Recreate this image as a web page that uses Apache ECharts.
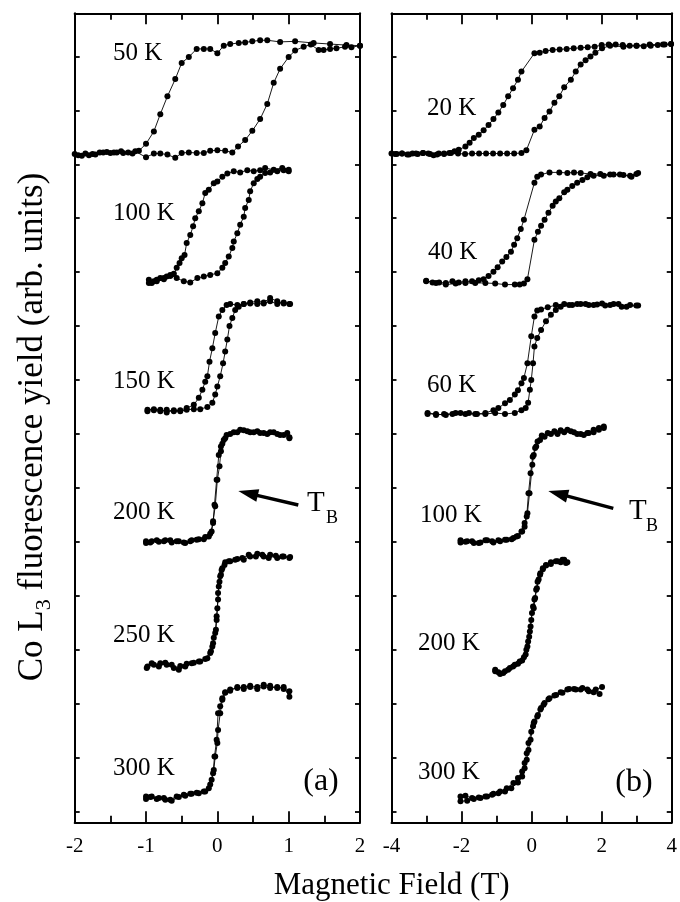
<!DOCTYPE html>
<html><head><meta charset="utf-8">
<script src="https://cdn.jsdelivr.net/npm/echarts@6.0.0/dist/echarts.min.js"></script>
<style>html,body{margin:0;padding:0;background:#fff}#c{width:680px;height:902px}</style>
</head><body><div id="c"></div>
<script>
// ---------- tick values ----------
const xTicksA = [-2, -1, 0, 1, 2];
const xTicksB = [-4, -2, 0, 2, 4];
const yTickValues = [0,1,2,3,4,5,6,7,8,9,10,11,12,13,14];
const yRange = [-0.2, 14.8];

// ---------- labels ----------
const tempLabelsA = ['50 K','100 K','150 K','200 K','250 K','300 K'];
const tempLabelsB = ['20 K','40 K','60 K','100 K','200 K','300 K'];
const panelTags = ['(a)','(b)'];
const xTitle = 'Magnetic Field (T)';
const yTitleMain = 'Co L';
const yTitleSub = '3';
const yTitleRest = ' fluorescence yield (arb. units)';

// ---------- panel (a) data: field (T), yield (arb. units), loop order ----------
const a50K_field = [2.0,1.81,1.58,1.35,1.09,0.88,0.70,0.60,0.49,0.39,0.30,0.18,0.09,0.0,-0.10,-0.19,-0.29,-0.40,-0.50,-0.59,-0.70,-0.80,-0.89,-1.0,-1.10,-1.19,-1.32,-1.41,-1.50,-1.60,-1.71,-1.80,-1.90,-2.0,
  -1.95,-1.85,-1.75,-1.65,-1.55,-1.45,-1.35,-1.25,-1.15,-1.0,-0.89,-0.80,-0.70,-0.59,-0.50,-0.40,-0.29,-0.19,-0.10,0.0,0.11,0.21,0.29,0.39,0.49,0.60,0.70,0.79,0.88,1.0,1.09,1.21,1.31,1.42,1.49,1.58,1.67,1.79,1.88,2.0];
const a50K_yield = [14.20,14.21,14.23,14.25,14.28,14.27,14.30,14.30,14.28,14.26,14.25,14.23,14.20,14.06,14.14,14.14,14.14,13.99,13.88,13.58,13.26,12.93,12.61,12.38,12.25,12.20,12.21,12.22,12.21,12.22,12.18,12.17,12.16,12.19,
  12.17,12.20,12.19,12.22,12.23,12.22,12.24,12.22,12.24,12.13,12.20,12.20,12.18,12.12,12.21,12.22,12.21,12.21,12.25,12.26,12.25,12.22,12.33,12.45,12.62,12.84,13.12,13.51,13.77,13.99,14.11,14.18,14.22,14.12,14.12,14.14,14.15,14.18,14.17,14.20];

const a100K_field = [1.0,0.91,0.79,0.67,0.60,0.51,0.42,0.32,0.23,0.14,0.07,0.0,-0.05,-0.12,-0.17,-0.21,-0.26,-0.31,-0.34,-0.38,-0.43,-0.46,-0.50,-0.53,-0.57,-0.61,-0.66,-0.71,-0.75,-0.80,-0.85,-0.89,-0.96,
  -0.96,-0.92,-0.85,-0.75,-0.66,-0.57,-0.47,-0.38,-0.28,-0.19,-0.10,0.0,0.07,0.11,0.16,0.21,0.23,0.28,0.32,0.37,0.39,0.44,0.46,0.51,0.56,0.60,0.67,0.74,0.84,0.93,1.0];
const a100K_yield = [11.87,11.93,11.90,11.93,11.89,11.87,11.89,11.85,11.87,11.83,11.77,11.68,11.65,11.53,11.47,11.28,11.13,11.00,10.85,10.69,10.54,10.32,10.26,10.17,10.08,9.97,9.93,9.92,9.89,9.89,9.86,9.83,9.86,
  9.80,9.80,9.83,9.87,9.95,9.89,9.83,9.81,9.89,9.92,9.95,9.98,10.08,10.17,10.29,10.45,10.57,10.72,10.88,11.03,11.19,11.34,11.50,11.65,11.73,11.77,11.84,11.85,11.87,11.89,11.90];

const a150K_field = [1.02,0.93,0.84,0.74,0.65,0.56,0.46,0.37,0.28,0.18,0.13,0.07,0.02,-0.03,-0.07,-0.11,-0.14,-0.17,-0.21,-0.26,-0.33,-0.43,-0.52,-0.61,-0.71,-0.80,-0.89,-0.98,
  -0.98,-0.89,-0.80,-0.71,-0.61,-0.52,-0.43,-0.33,-0.24,-0.14,-0.07,-0.03,0.0,0.04,0.08,0.11,0.14,0.17,0.21,0.25,0.30,0.37,0.46,0.56,0.65,0.74,0.84,0.93,1.01];
const a150K_yield = [9.41,9.44,9.41,9.46,9.42,9.41,9.42,9.41,9.39,9.41,9.39,9.30,9.18,8.87,8.59,8.34,8.07,7.97,7.82,7.67,7.54,7.48,7.44,7.42,7.45,7.42,7.44,7.45,
  7.42,7.46,7.45,7.40,7.44,7.42,7.45,7.46,7.46,7.50,7.58,7.73,7.88,8.07,8.31,8.53,8.75,9.00,9.15,9.30,9.36,9.41,9.44,9.46,9.44,9.52,9.46,9.42,9.41];

const a200K_field = [1.01,0.93,0.84,0.74,0.65,0.56,0.46,0.37,0.28,0.18,0.11,0.07,0.05,0.03,0.0,-0.03,-0.06,-0.08,-0.12,-0.19,-0.29,-0.38,-0.47,-0.57,-0.66,-0.75,-0.85,-0.94,-1.0,
  -1.0,-0.92,-0.82,-0.73,-0.64,-0.54,-0.45,-0.36,-0.26,-0.17,-0.10,-0.06,-0.04,-0.01,0.02,0.05,0.09,0.13,0.23,0.32,0.42,0.51,0.60,0.70,0.79,0.88,0.98,1.01];
const a200K_yield = [6.94,6.98,7.00,7.03,7.02,7.05,7.03,7.07,7.03,7.00,6.92,6.82,6.68,6.40,6.15,5.66,5.38,5.19,5.10,5.05,5.04,5.01,4.99,5.01,5.03,5.01,5.03,4.99,5.01,
  4.98,5.01,5.00,5.03,4.99,5.01,4.98,5.03,5.05,5.09,5.15,5.35,5.69,6.15,6.61,6.77,6.89,6.98,7.03,7.08,7.05,7.03,7.02,7.00,7.03,6.98,7.02,6.92];

const a250K_field = [1.02,0.93,0.84,0.74,0.65,0.56,0.46,0.37,0.28,0.18,0.11,0.07,0.05,0.03,0.01,0.0,-0.01,-0.02,-0.05,-0.07,-0.10,-0.14,-0.24,-0.33,-0.43,-0.52,-0.61,-0.71,-0.80,-0.89,-0.98,
  -0.99,-0.92,-0.82,-0.73,-0.64,-0.54,-0.45,-0.36,-0.26,-0.17,-0.09,-0.06,-0.03,-0.01,0.01,0.02,0.04,0.06,0.10,0.16,0.25,0.35,0.44,0.54,0.63,0.72,0.82,0.91,1.01];
const a250K_yield = [4.72,4.73,4.70,4.76,4.73,4.78,4.73,4.67,4.68,4.64,4.62,4.51,4.39,4.26,4.05,3.77,3.55,3.37,3.22,3.06,2.94,2.84,2.78,2.76,2.74,2.70,2.66,2.72,2.75,2.72,2.69,
  2.66,2.75,2.69,2.76,2.72,2.63,2.69,2.75,2.78,2.83,2.97,3.12,3.31,3.62,3.93,4.17,4.36,4.48,4.57,4.64,4.67,4.70,4.76,4.73,4.76,4.70,4.74,4.73,4.70];

const a300K_field = [1.01,0.93,0.84,0.74,0.65,0.56,0.46,0.37,0.28,0.18,0.11,0.07,0.04,0.01,0.0,-0.03,-0.05,-0.08,-0.12,-0.19,-0.29,-0.38,-0.47,-0.57,-0.66,-0.75,-0.85,-0.94,-1.0,
  -1.0,-0.92,-0.82,-0.73,-0.64,-0.54,-0.45,-0.36,-0.26,-0.17,-0.10,-0.06,-0.04,-0.01,0.01,0.04,0.07,0.11,0.18,0.28,0.37,0.46,0.56,0.65,0.74,0.84,0.93,1.01];
const a300K_yield = [2.23,2.27,2.31,2.29,2.32,2.27,2.31,2.27,2.31,2.24,2.21,2.07,1.82,1.51,1.27,1.02,0.77,0.59,0.43,0.37,0.35,0.33,0.31,0.28,0.22,0.25,0.23,0.27,0.28,
  0.23,0.28,0.25,0.22,0.20,0.27,0.29,0.33,0.34,0.37,0.50,0.71,1.02,1.33,1.82,1.95,2.10,2.20,2.26,2.29,2.31,2.33,2.31,2.35,2.33,2.29,2.31,2.13];

// ---------- panel (b) data ----------
const b20K_field = [3.98,3.8,3.6,3.4,3.2,3.0,2.8,2.6,2.4,2.2,2.0,1.8,1.6,1.4,1.2,1.0,0.8,0.6,0.4,0.23,0.08,-0.29,-0.39,-0.53,-0.67,-0.81,-0.95,-1.09,-1.23,-1.37,-1.51,-1.65,-1.77,-1.89,-2.08,-2.2,-2.35,-2.5,-2.65,-2.8,-2.95,-3.1,-3.25,-3.4,-3.55,-3.7,-3.85,-4.0,
  -3.9,-3.7,-3.5,-3.3,-3.1,-2.9,-2.7,-2.5,-2.3,-2.1,-1.9,-1.7,-1.5,-1.3,-1.1,-0.9,-0.7,-0.5,-0.29,-0.15,0.08,0.23,0.37,0.51,0.65,0.79,0.93,1.12,1.26,1.40,1.54,1.68,1.82,2.01,2.24,2.62,2.99,3.37,3.75,3.98];
const b20K_yield = [14.23,14.22,14.21,14.20,14.19,14.20,14.20,14.21,14.22,14.22,14.21,14.18,14.17,14.16,14.15,14.14,14.13,14.12,14.10,14.07,14.06,13.72,13.57,13.41,13.26,13.10,12.96,12.84,12.73,12.63,12.55,12.49,12.40,12.33,12.27,12.24,12.21,12.19,12.20,12.17,12.20,12.21,12.19,12.20,12.18,12.20,12.19,12.20,
  12.19,12.20,12.18,12.20,12.21,12.19,12.18,12.20,12.21,12.20,12.19,12.20,12.20,12.20,12.20,12.20,12.20,12.20,12.21,12.26,12.64,12.70,12.86,12.98,13.14,13.26,13.43,13.57,13.72,13.85,13.93,14.00,14.07,14.15,14.20,14.18,14.20,14.22,14.22,14.23];

const b40K_field = [3.04,2.81,2.52,2.24,1.96,1.68,1.40,1.21,1.02,0.79,0.51,0.27,0.16,0.08,-0.22,-0.31,-0.41,-0.50,-0.59,-0.72,-0.84,-0.97,-1.09,-1.23,-1.37,-1.51,-1.70,-1.89,-2.08,-2.26,-2.45,-2.64,-2.83,-3.01,
  -3.01,-2.73,-2.45,-2.17,-1.89,-1.61,-1.32,-1.04,-0.76,-0.48,-0.34,-0.22,-0.12,0.08,0.18,0.27,0.37,0.48,0.60,0.69,0.79,0.93,1.02,1.16,1.30,1.45,1.59,1.77,2.06,2.34,2.62,2.85,2.99];
const b40K_yield = [11.84,11.79,11.81,11.81,11.82,11.82,11.84,11.85,11.84,11.85,11.85,11.81,11.77,11.66,10.97,10.80,10.63,10.51,10.38,10.28,10.20,10.09,10.01,9.93,9.87,9.85,9.83,9.83,9.81,9.83,9.80,9.81,9.81,9.84,
  9.83,9.80,9.77,9.79,9.80,9.80,9.80,9.79,9.77,9.77,9.77,9.79,9.87,10.60,10.75,10.86,10.97,11.10,11.23,11.31,11.37,11.48,11.53,11.60,11.66,11.71,11.76,11.79,11.79,11.81,11.80,11.77,11.82];

const b60K_field = [3.04,2.81,2.57,2.34,2.10,1.87,1.63,1.40,1.16,0.93,0.69,0.46,0.27,0.16,0.08,-0.01,-0.12,-0.22,-0.29,-0.39,-0.48,-0.62,-0.76,-0.95,-1.09,-1.32,-1.56,-1.79,-2.03,-2.26,-2.50,-2.73,-2.97,
  -2.97,-2.73,-2.45,-2.17,-1.89,-1.61,-1.32,-1.04,-0.76,-0.48,-0.29,-0.17,-0.10,-0.05,-0.01,0.04,0.08,0.16,0.27,0.41,0.55,0.69,0.83,1.07,1.30,1.54,1.77,2.01,2.24,2.48,2.71,2.99];
const b60K_yield = [9.38,9.39,9.36,9.41,9.38,9.40,9.39,9.41,9.39,9.41,9.39,9.35,9.31,9.29,9.18,8.81,8.31,8.04,7.94,7.81,7.73,7.63,7.57,7.48,7.44,7.39,7.37,7.39,7.39,7.37,7.37,7.35,7.39,
  7.37,7.37,7.35,7.39,7.37,7.37,7.37,7.39,7.37,7.39,7.44,7.48,7.58,7.82,8.00,8.31,8.62,8.78,8.93,9.09,9.21,9.30,9.36,9.39,9.41,9.41,9.39,9.42,9.39,9.41,9.36,9.38];

const b100K_field = [2.06,1.92,1.77,1.63,1.49,1.30,1.12,0.93,0.74,0.55,0.37,0.24,0.13,0.06,0.02,-0.06,-0.12,-0.20,-0.29,-0.43,-0.57,-0.76,-0.95,-1.13,-1.32,-1.51,-1.70,-1.89,-2.03,
  -2.03,-1.84,-1.65,-1.46,-1.27,-1.09,-0.90,-0.71,-0.52,-0.39,-0.27,-0.20,-0.14,-0.09,-0.03,0.03,0.10,0.17,0.29,0.46,0.65,0.83,1.02,1.21,1.40,1.59,1.77,1.92,2.06];
const b100K_yield = [7.11,7.08,7.03,7.02,6.98,7.00,7.05,7.03,7.00,7.00,6.95,6.89,6.77,6.61,6.43,5.90,5.53,5.35,5.19,5.10,5.05,5.04,5.03,5.01,5.03,4.98,5.01,5.00,5.03,
  4.99,5.01,4.98,4.99,5.03,4.99,5.01,5.04,5.07,5.11,5.19,5.28,5.47,5.90,6.27,6.58,6.74,6.86,6.97,7.02,7.05,7.07,7.08,7.03,7.00,7.02,7.08,7.11,7.14];

const b200K_field = [1.02,0.93,0.83,0.69,0.55,0.41,0.32,0.25,0.20,0.15,0.10,0.06,0.01,-0.03,-0.07,-0.12,-0.17,-0.27,-0.39,-0.53,-0.67,-0.81,-0.95,-1.04,
  -1.04,-0.90,-0.76,-0.62,-0.48,-0.34,-0.22,-0.15,-0.10,-0.05,-0.01,0.04,0.08,0.13,0.17,0.24,0.32,0.41,0.55,0.74,0.88,0.98];
const b200K_yield = [4.62,4.67,4.62,4.64,4.59,4.56,4.51,4.42,4.30,4.14,3.96,3.77,3.68,3.43,3.24,3.06,2.91,2.80,2.74,2.69,2.63,2.57,2.58,2.63,
  2.60,2.55,2.60,2.66,2.72,2.78,2.86,3.00,3.15,3.34,3.55,3.80,3.93,4.11,4.26,4.39,4.49,4.57,4.62,4.64,4.67,4.61];

const b300K_field = [2.01,1.83,1.63,1.45,1.26,1.07,0.88,0.70,0.51,0.37,0.27,0.18,0.08,0.04,-0.03,-0.09,-0.14,-0.20,-0.27,-0.39,-0.58,-0.76,-0.95,-1.13,-1.32,-1.51,-1.70,-1.89,-2.03,
  -2.03,-1.84,-1.65,-1.46,-1.27,-1.09,-0.90,-0.71,-0.52,-0.39,-0.27,-0.20,-0.14,-0.09,-0.01,0.06,0.16,0.25,0.34,0.48,0.65,0.83,1.02,1.21,1.40,1.59,1.77,1.94];
const b300K_yield = [2.31,2.26,2.23,2.29,2.26,2.27,2.20,2.16,2.10,2.01,1.92,1.79,1.67,1.58,1.33,1.14,0.96,0.80,0.65,0.54,0.43,0.37,0.34,0.31,0.28,0.26,0.25,0.29,0.28,
  0.19,0.20,0.23,0.25,0.28,0.33,0.37,0.43,0.53,0.62,0.74,0.90,1.08,1.27,1.48,1.64,1.76,1.89,1.98,2.08,2.15,2.21,2.26,2.27,2.26,2.26,2.21,2.18];

// ---------- build ----------
const FONT = '"Liberation Serif","Times New Roman",Times,serif';
const curves = [
  [0, a50K_field, a50K_yield], [0, a100K_field, a100K_yield], [0, a150K_field, a150K_yield],
  [0, a200K_field, a200K_yield], [0, a250K_field, a250K_yield], [0, a300K_field, a300K_yield],
  [1, b20K_field, b20K_yield], [1, b40K_field, b40K_yield], [1, b60K_field, b60K_yield],
  [1, b100K_field, b100K_yield], [1, b200K_field, b200K_yield], [1, b300K_field, b300K_yield]
];

const GRID_TOP = 13.3, GRID_H = 809;
const grids = [
  {left: 74.7, top: GRID_TOP, width: 285.3, height: GRID_H},
  {left: 391.5, top: GRID_TOP, width: 284.3, height: GRID_H}
];
const lineCol = '#000';
function xAx(g, ticks, pos) {
  return {
    type: 'value', gridIndex: g, position: pos,
    min: ticks[0], max: ticks[ticks.length - 1], interval: ticks[1] - ticks[0],
    axisLine: {show: true, onZero: false, lineStyle: {color: lineCol, width: 2}},
    axisTick: {show: true, inside: true, length: 11, lineStyle: {color: lineCol, width: 1.8}},
    minorTick: {show: true, splitNumber: 2, length: 6.5, lineStyle: {color: lineCol, width: 1.8}},
    axisLabel: {show: pos === 'bottom', color: '#000', fontFamily: FONT, fontSize: 21, margin: 14},
    splitLine: {show: false}, minorSplitLine: {show: false}
  };
}
function yAx(g, pos) {
  return {
    type: 'value', gridIndex: g, position: pos,
    min: yRange[0], max: yRange[1],
    axisLine: {show: true, onZero: false, lineStyle: {color: lineCol, width: 2}},
    axisTick: {show: true, inside: true, length: 5, customValues: yTickValues, lineStyle: {color: lineCol, width: 1.8}},
    axisLabel: {show: false},
    splitLine: {show: false}
  };
}

const series = curves.map(([p, f, y]) => ({
  type: 'line',
  xAxisIndex: p * 2, yAxisIndex: p * 2,
  data: f.map((v, i) => [v, y[i]]),
  symbol: 'circle', symbolSize: 6, showSymbol: true,
  itemStyle: {color: '#000'},
  lineStyle: {color: '#000', width: 0.9},
  clip: false, silent: true, animation: false
}));

function txt(x, y, text, size, align) {
  return {type: 'text', x: x, y: y, silent: true,
    style: {text: text, fill: '#000', font: size + 'px ' + FONT, textAlign: align || 'left', textVerticalAlign: 'middle'}};
}
function arrow(x1, y1, x2, y2) {
  const dx = x2 - x1, dy = y2 - y1, L = Math.hypot(dx, dy), ux = dx / L, uy = dy / L;
  const hl = 20, hw = 6.5;
  const bx = x2 - ux * hl, by = y2 - uy * hl;
  return [
    {type: 'line', silent: true, shape: {x1: x1, y1: y1, x2: bx + ux * 3, y2: by + uy * 3}, style: {stroke: '#000', lineWidth: 3.4}},
    {type: 'polygon', silent: true, shape: {points: [[x2, y2], [bx - uy * hw, by + ux * hw], [bx + uy * hw, by - ux * hw]]}, style: {fill: '#000'}}
  ];
}

const posA = [[113, 53], [113, 213], [113, 381], [113, 512], [113, 635], [113, 768]];
const posB = [[427, 108], [428, 252], [427, 385], [420, 515], [418, 643], [418, 772]];
const graphics = [];
tempLabelsA.forEach((t, i) => graphics.push(txt(posA[i][0], posA[i][1], t, 25)));
tempLabelsB.forEach((t, i) => graphics.push(txt(posB[i][0], posB[i][1], t, 25)));
graphics.push(txt(321, 782, panelTags[0], 32, 'center'));
graphics.push(txt(634, 783, panelTags[1], 32, 'center'));
// T_B annotations
graphics.push(txt(307, 503, 'T', 29));
graphics.push(txt(326, 518, 'B', 18));
graphics.push(txt(629, 511, 'T', 29));
graphics.push(txt(646, 526, 'B', 18));
graphics.push(...arrow(298.3, 505, 238.3, 491));
graphics.push(...arrow(613.3, 508.3, 548.3, 491));
// axis titles
graphics.push(txt(391.7, 886, xTitle, 31, 'center'));
graphics.push({
  type: 'text', x: 33, y: 427, rotation: Math.PI / 2, silent: true,
  style: {
    text: '{n|' + yTitleMain + '}{s|' + yTitleSub + '}{n|' + yTitleRest + '}',
    textAlign: 'center', textVerticalAlign: 'middle', fill: '#000',
    rich: {
      n: {fontFamily: FONT, fontSize: 35, lineHeight: 44, fill: '#000'},
      s: {fontFamily: FONT, fontSize: 22, lineHeight: 27, verticalAlign: 'bottom', fill: '#000'}
    }
  }
});

const chart = echarts.init(document.getElementById('c'), null, {renderer: 'canvas'});
chart.setOption({
  animation: false,
  backgroundColor: '#fff',
  grid: grids,
  xAxis: [xAx(0, xTicksA, 'bottom'), xAx(0, xTicksA, 'top'), xAx(1, xTicksB, 'bottom'), xAx(1, xTicksB, 'top')],
  yAxis: [yAx(0, 'left'), yAx(0, 'right'), yAx(1, 'left'), yAx(1, 'right')],
  series: series,
  graphic: graphics
});
</script></body></html>
